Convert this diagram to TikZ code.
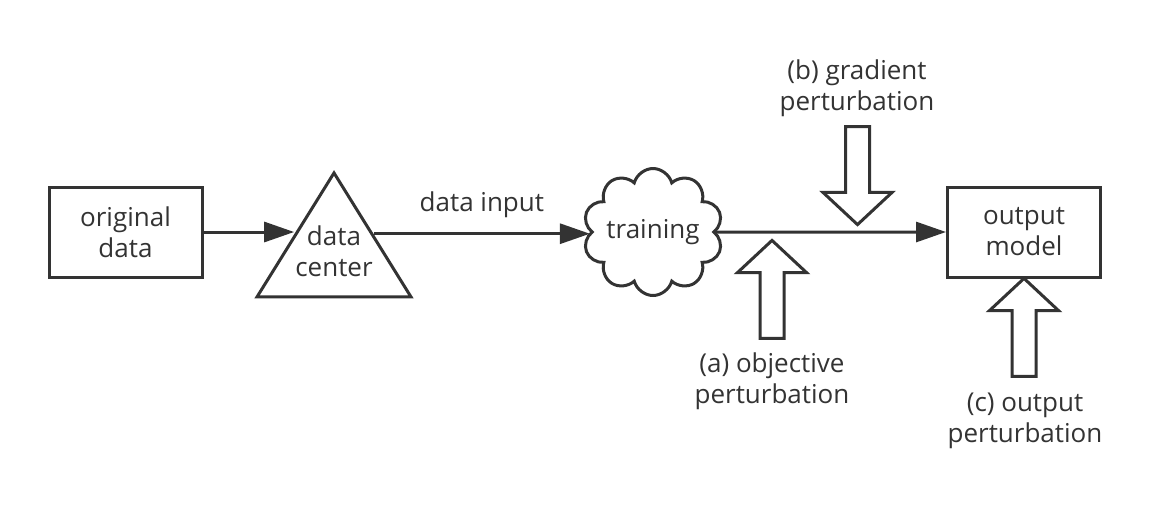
\documentclass[tikz,border=0pt]{standalone}
\usepackage{fontspec}
\setmainfont{Open Sans}
\usepackage{xcolor}
\usetikzlibrary{shapes.geometric,shapes.symbols,shapes.arrows,arrows.meta,positioning,calc}
\definecolor{ink}{HTML}{333333}

\begin{document}
\begin{tikzpicture}[
  x=0.5pt, y=-0.5pt,
  color=ink, line width=1.5pt,
  every node/.style={font=\fontsize{13}{15.5}\selectfont, align=center},
  box/.style={draw, minimum width=76.5pt, minimum height=45pt},
  tri/.style={draw, isosceles triangle, shape border rotate=90, isosceles triangle stretches,
    minimum width=77pt, minimum height=62pt, inner sep=0pt},
  puff/.style={draw, cloud, cloud puffs=10, cloud ignores aspect, minimum width=70pt, minimum height=63.5pt, inner sep=0pt},
  blk/.style={draw, fill=white, single arrow, minimum height=49pt,
    single arrow head extend=11.25pt, single arrow tip angle=94, single arrow head indent=0pt,
    inner xsep=5.25pt, inner ysep=0pt},
  flow/.style={-{Triangle[length=15pt, width=10pt]}},
]

\useasboundingbox (0,0) rectangle (1159,505);

% --- main flow ---
\node[box] (orig) at (125.5,232) {original\\data};
\node[tri, anchor=apex] (dc) at (334,169) {};
\node (dct) at (334,251) {data\\center};
\node[puff] (train) at (653,232) {training};
\node[box] (out) at (1024,232) {output\\model};

\coordinate (dcin) at ($(dc.apex)!0.5!(dc.left corner)$);
\coordinate (dcout) at ($(dc.apex)!0.5!(dc.right corner)$);

\draw[flow] (orig.east) -- (orig.east -| dcin);
\draw[flow] (dcout) -- node[above=4pt] (din) {data input} (dcout -| train.west);
\draw[flow] (train.east) -- (out.west);

% --- perturbations ---
\node[blk, shape border rotate=270] (gb) at (857.5,170) {};
\node[blk, shape border rotate=90] (ga) at (772,295) {};
\node[blk, shape border rotate=90] (gc) at (1024,333) {};

\node (lb) at (857,88) {(b) gradient\\perturbation};
\node (la) at (772,381) {(a) objective\\perturbation};
\node (lc) at (1025,421) {(c) output\\perturbation};

\end{tikzpicture}
\end{document}
